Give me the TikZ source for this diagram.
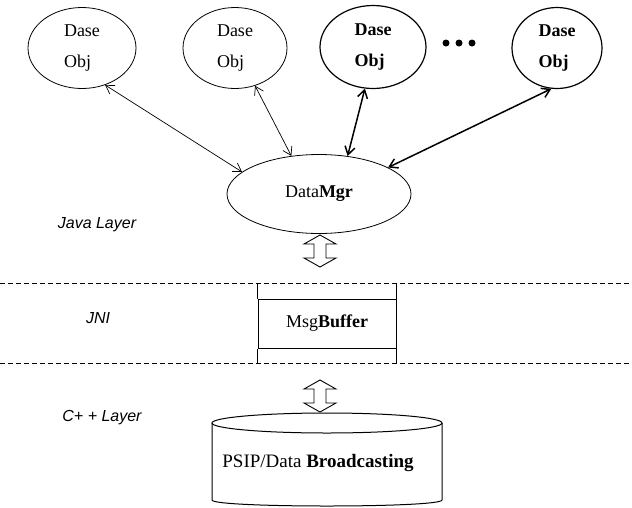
\documentclass[tikz,border=0pt]{standalone}
\usepackage{fontspec}
\setmainfont{Liberation Serif}
\newfontfamily\labelfont{Liberation Sans}
\usetikzlibrary{shapes.geometric,arrows.meta}
\begin{document}
\begin{tikzpicture}[x=1pt,y=-1pt,
  obj/.style={draw, ellipse, inner sep=0pt, line width=0.8pt, align=left,
    font=\fontsize{18}{31}\selectfont},
  mgr/.style={draw, ellipse, inner sep=0pt, line width=0.8pt,
    font=\fontsize{18}{22}\selectfont},
  thinlink/.style={<->, >={Straight Barb[length=8pt,width=10pt]}, line width=0.7pt},
  thicklink/.style={<->, >={Straight Barb[length=8pt,width=10pt]}, line width=1.5pt},
  layer/.style={font=\labelfont\itshape\fontsize{16}{18}\selectfont},
  sep/.style={dash pattern=on 5pt off 3pt, line width=1pt},
  hollow/.style={draw, fill=white, line width=0.9pt, line join=miter},
  boxline/.style={line width=1pt},
  maintext/.style={font=\fontsize{19}{22}\selectfont, inner sep=0pt}
]
\useasboundingbox (0,0) rectangle (632,507);

% object ellipses
\node[obj, minimum width=108pt, minimum height=81pt] (e1) at (82,48) {Dase\\Obj};
\node[obj, minimum width=104pt, minimum height=81pt] (e2) at (235,48) {Dase\\Obj};
\node[obj, minimum width=106pt, minimum height=83pt, line width=1.2pt] (e3) at (373,47) {\textbf{Dase}\\\textbf{Obj}};
\node[obj, minimum width=90pt, minimum height=81pt, line width=1.2pt] (e4) at (557,48) {\textbf{Dase}\\\textbf{Obj}};

% dots
\fill (446,43) circle (3.5pt);
\fill (459,43) circle (3.5pt);
\fill (472,43) circle (3.5pt);

% data manager
\node[mgr, minimum width=184pt, minimum height=79pt] (dm) at (319,194) {Data\textbf{Mgr}};

% links
\draw[thinlink] (e1.-58.6) -- (dm.164.7);
\draw[thinlink] (e2.-62.4) -- (dm.126);
\draw[thicklink] (e3.-101) -- (dm.53);
\draw[thicklink] (e4.-98) -- (dm.21.7);

% layer labels
\node[layer] (java) at (97,225) {Java Layer};
\node[layer] (jni) at (98,318) {JNI};
\node[layer] (cpp) at (102,418) {C+ + Layer};

% separators
\coordinate (s1l) at (0,283);
\coordinate (s1r) at (632,283);
\coordinate (s2l) at (0,363);
\coordinate (s2r) at (632,363);
\draw[sep] (s1l) -- (s1r);
\draw[sep] (s2l) -- (s2r);

% message buffer
\node[draw, boxline, minimum width=138pt, minimum height=49pt, inner sep=0pt,
  font=\fontsize{18}{22}\selectfont] (mb) at (327,323.5) {Msg\textbf{Buffer}};
\draw[boxline] (mb.north west) -- ++(0,-16);
\draw[boxline] (mb.south west) -- ++(0,15);
\draw[line width=1.4pt] (mb.north east) -- ++(0,-16);
\draw[line width=1.4pt] (mb.south east) -- ++(0,15);
\draw[line width=1.4pt] (mb.north east) -- (mb.south east);

% hollow double arrows
\coordinate (h1) at (320,235);
\draw[hollow] (h1) -- ++(16,9) -- ++(-10,0) -- ++(0,14) -- ++(10,0) -- ++(-16,9)
  -- ++(-16,-9) -- ++(10,0) -- ++(0,-14) -- ++(-10,0) -- cycle;
\coordinate (h2) at (320,380);
\draw[hollow] (h2) -- ++(16,9) -- ++(-10,0) -- ++(0,14) -- ++(10,0) -- ++(-16,9)
  -- ++(-16,-9) -- ++(10,0) -- ++(0,-14) -- ++(-10,0) -- cycle;

% cylinder
\draw[line width=1pt] (327,423) ellipse [x radius=115pt, y radius=10pt];
\draw[line width=1pt] (212,423) -- (212,500)
  .. controls (212,508) and (442,508) .. (442,500) -- (442,423);
\node[maintext] (psip) at (318,463) {PSIP/Data \textbf{Broadcasting}};
\end{tikzpicture}
\end{document}
